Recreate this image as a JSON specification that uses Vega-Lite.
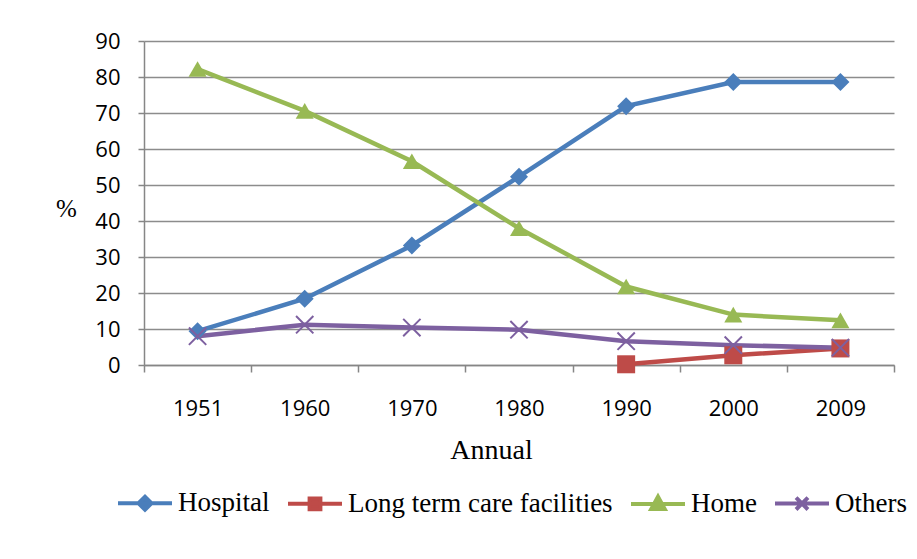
{
  "$schema": "https://vega.github.io/schema/vega-lite/v6.json",
  "width": 750,
  "height": 324,
  "autosize": {"type": "none"},
  "padding": {"left": 144, "top": 41, "right": 23, "bottom": 194},
  "background": "white",
  "config": {"view": {"stroke": null}},
  "data": {"values": [
    {"year": "1951", "series": "Hospital", "value": 9.4},
    {"year": "1960", "series": "Hospital", "value": 18.4},
    {"year": "1970", "series": "Hospital", "value": 33.2},
    {"year": "1980", "series": "Hospital", "value": 52.3},
    {"year": "1990", "series": "Hospital", "value": 71.9},
    {"year": "2000", "series": "Hospital", "value": 78.6},
    {"year": "2009", "series": "Hospital", "value": 78.6},
    {"year": "1990", "series": "Long term care facilities", "value": 0.2},
    {"year": "2000", "series": "Long term care facilities", "value": 2.7},
    {"year": "2009", "series": "Long term care facilities", "value": 4.6},
    {"year": "1951", "series": "Home", "value": 82.2},
    {"year": "1960", "series": "Home", "value": 70.6},
    {"year": "1970", "series": "Home", "value": 56.6},
    {"year": "1980", "series": "Home", "value": 38.0},
    {"year": "1990", "series": "Home", "value": 21.8},
    {"year": "2000", "series": "Home", "value": 14.0},
    {"year": "2009", "series": "Home", "value": 12.4},
    {"year": "1951", "series": "Others", "value": 8.0},
    {"year": "1960", "series": "Others", "value": 11.2},
    {"year": "1970", "series": "Others", "value": 10.4},
    {"year": "1980", "series": "Others", "value": 9.8},
    {"year": "1990", "series": "Others", "value": 6.6},
    {"year": "2000", "series": "Others", "value": 5.5},
    {"year": "2009", "series": "Others", "value": 4.8}
  ]},
  "encoding": {
    "x": {
      "field": "year", "type": "nominal",
      "scale": {"type": "band", "paddingInner": 0, "paddingOuter": 0},
      "axis": {
        "title": "Annual", "titleFont": "Liberation Serif", "titleFontSize": 28, "titleFontWeight": "normal", "titleColor": "black",
        "titleX": 347, "titleY": 85, "titleBaseline": "middle", "titleAnchor": "start", "titleAlign": "center",
        "labelAngle": 0, "labelFont": "Open Sans", "labelFontSize": 22, "labelColor": "black", "labelPadding": 26,
        "tickBand": "extent", "tickSize": 7, "tickColor": "#868686", "tickWidth": 1.5,
        "domainColor": "#868686", "domainWidth": 1.5, "grid": false
      }
    },
    "y": {
      "field": "value", "type": "quantitative",
      "scale": {"domain": [0, 90], "nice": false},
      "axis": {
        "title": "%", "titleFont": "Liberation Serif", "titleFontSize": 25, "titleFontWeight": "normal", "titleColor": "black",
        "titleAngle": 0, "titleX": -78, "titleY": 167, "titleAlign": "center", "titleBaseline": "middle",
        "values": [0, 10, 20, 30, 40, 50, 60, 70, 80, 90],
        "labelFont": "Open Sans", "labelFontSize": 22, "labelColor": "black", "labelPadding": 18,
        "tickSize": 6, "tickColor": "#868686", "tickWidth": 1.5,
        "domainColor": "#868686", "domainWidth": 1.5,
        "grid": true, "gridColor": "#8c8c8c", "gridWidth": 1.5
      }
    }
  },
  "layer": [
    {
      "mark": {"type": "line", "strokeWidth": 4.5},
      "encoding": {
        "color": {
          "field": "series", "type": "nominal",
          "scale": {"domain": ["Hospital", "Long term care facilities", "Home", "Others"], "range": ["#4a7ebb", "#be4b48", "#98b954", "#7d60a0"]},
          "legend": {
            "orient": "none", "legendX": -28, "legendY": 433, "direction": "horizontal", "title": null,
            "symbolSize": 2916, "symbolStrokeWidth": 4, "labelOffset": 4, "columnPadding": 10,
            "labelFont": "Liberation Serif", "labelFontSize": 27, "labelColor": "black", "labelLimit": 400,
            "encode": {"symbols": {"update": {
              "shape": {"signal": "datum.value === 'Hospital' ? 'M-1,0L1,0M-0.24,0L0,-0.24L0.24,0L0,0.24Z' : datum.value === 'Home' ? 'M-1,0L1,0M0,-0.27L0.25,0.19L-0.25,0.19Z' : datum.value === 'Others' ? 'M-1,0L1,0M-0.22,-0.22L0.22,0.22M-0.22,0.22L0.22,-0.22' : 'M-1,0L1,0M-0.2,-0.2L0.2,-0.2L0.2,0.2L-0.2,0.2Z'"},
              "fill": {"signal": "datum.value === 'Hospital' ? '#4a7ebb' : datum.value === 'Home' ? '#98b954' : datum.value === 'Others' ? 'transparent' : '#be4b48'"},
              "stroke": {"signal": "datum.value === 'Hospital' ? '#4a7ebb' : datum.value === 'Home' ? '#98b954' : datum.value === 'Others' ? '#7d60a0' : '#be4b48'"}
            }}}
          }
        },
        "order": {"field": "year"}
      }
    },
    {
      "transform": [{"filter": "datum.series !== 'Others'"}],
      "mark": {"type": "point", "filled": true, "opacity": 1, "size": 324},
      "encoding": {
        "shape": {
          "field": "series", "type": "nominal",
          "scale": {"domain": ["Hospital", "Long term care facilities", "Home"], "range": ["diamond", "square", "triangle-up"]},
          "legend": null
        },
        "color": {"field": "series", "type": "nominal", "legend": null}
      }
    },
    {
      "transform": [{"filter": "datum.series === 'Others'"}],
      "mark": {"type": "point", "filled": false, "opacity": 1, "size": 300, "strokeWidth": 2, "shape": "M-1,-1L1,1M-1,1L1,-1", "color": "#7d60a0"},
      "encoding": {}
    }
  ]
}
